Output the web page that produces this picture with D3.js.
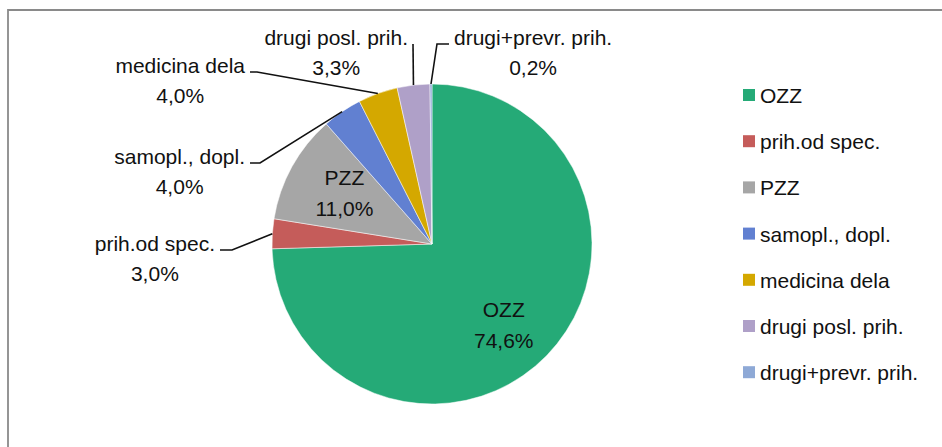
<!DOCTYPE html>
<html lang="sl">
<head>
  <meta charset="UTF-8">
  <title>Struktura prihodkov</title>
  <script src="https://d3js.org/d3.v7.min.js"></script>
  <style>
    body { margin: 0; background: #fff; }
    svg text {
      font-family: "Liberation Sans", Arial, sans-serif;
      font-size: 21px;
      fill: #111;
    }
    .leader { fill: none; stroke: #111; stroke-width: 1.6px; }
  </style>
</head>
<body>
  <svg id="chart" width="942" height="447"></svg>
  <script>
    // data
    const categories = ["OZZ", "prih.od spec.", "PZZ", "samopl., dopl.", "medicina dela", "drugi posl. prih.", "drugi+prevr. prih."];
    const shares = [74.6, 3.0, 11.0, 4.0, 4.0, 3.3, 0.2];
    const shareLabels = ["74,6%", "3,0%", "11,0%", "4,0%", "4,0%", "3,3%", "0,2%"];
    const colors = ["#25AA77", "#C55C5A", "#A6A6A6", "#6180D1", "#D4A800", "#AFA0C8", "#8EA9D6"];

    // label placement (inside slice with nudge, or outside with leader elbow)
    const labelPlace = [
      { inside: true, dy: 10 },
      { elbow: [232, 250], tail: -12 },
      { inside: true, dy: -4 },
      { elbow: [260, 163], tail: -10 },
      { elbow: [257, 72], tail: -7 },
      { elbow: [413, 44], tail: 0, side: -1 },
      { elbow: [437, 44], tail: 12 }
    ];

    const width = 942, height = 447;
    const cx = 432, cy = 244, r = 160;
    const svg = d3.select("#chart");

    // chart frame (only top and left edges are visible)
    svg.append("path")
      .attr("d", `M8,${height + 2} L8,10 L${width + 2},10`)
      .attr("fill", "none")
      .attr("stroke", "#8a8a8a")
      .attr("stroke-width", 1.8);

    const data = categories.map((name, i) => ({ name, value: shares[i], label: shareLabels[i], color: colors[i], place: labelPlace[i] }));

    const pie = d3.pie().sort(null).value(d => d.value).startAngle(0).endAngle(2 * Math.PI);
    const arcs = pie(data);

    const arc = d3.arc().innerRadius(0).outerRadius(r);
    const g = svg.append("g").attr("transform", `translate(${cx},${cy})`);

    g.selectAll("path.slice")
      .data(arcs)
      .join("path")
      .attr("class", "slice")
      .attr("d", arc)
      .attr("fill", d => d.data.color)
      .attr("stroke", "#fff")
      .attr("stroke-width", 0.5);

    const lineH = 30;

    arcs.forEach(a => {
      const d = a.data, p = d.place;
      const mid = (a.startAngle + a.endAngle) / 2;
      if (p.inside) {
        const R = 100;
        const x = cx + R * Math.sin(mid), y = cy - R * Math.cos(mid) + p.dy;
        const t = svg.append("text").attr("text-anchor", "middle");
        t.append("tspan").attr("x", x).attr("y", y - 7).text(d.name);
        t.append("tspan").attr("x", x).attr("y", y - 6 + lineH).text(d.label);
        return;
      }
      // leader from slice edge to elbow, then short tail
      const sx = cx + r * Math.sin(mid), sy = cy - r * Math.cos(mid);
      const [ex, ey] = p.elbow;
      const tx = ex + p.tail;
      svg.append("path")
        .attr("class", "leader")
        .attr("d", `M${sx},${sy} L${ex},${ey} L${tx},${ey}`);

      const left = p.tail < 0 || p.side === -1;
      const first = svg.append("text")
        .attr("x", left ? tx - 5 : tx + 5)
        .attr("y", ey + 1)
        .attr("text-anchor", left ? "end" : "start")
        .text(d.name);
      const w = first.node().getComputedTextLength();
      const centre = left ? tx - 5 - w / 2 : tx + 5 + w / 2;
      svg.append("text")
        .attr("x", centre)
        .attr("y", ey + 1 + lineH)
        .attr("text-anchor", "middle")
        .text(d.label);
    });

    // legend
    const legend = svg.append("g").attr("transform", "translate(743,96)");
    const item = legend.selectAll("g")
      .data(data)
      .join("g")
      .attr("transform", (d, i) => `translate(0,${i * 46.2})`);
    item.append("rect")
      .attr("x", 0).attr("y", -7)
      .attr("width", 12).attr("height", 12)
      .attr("fill", d => d.color);
    item.append("text")
      .attr("x", 17)
      .attr("y", 7)
      .text(d => d.name);
  </script>
</body>
</html>
